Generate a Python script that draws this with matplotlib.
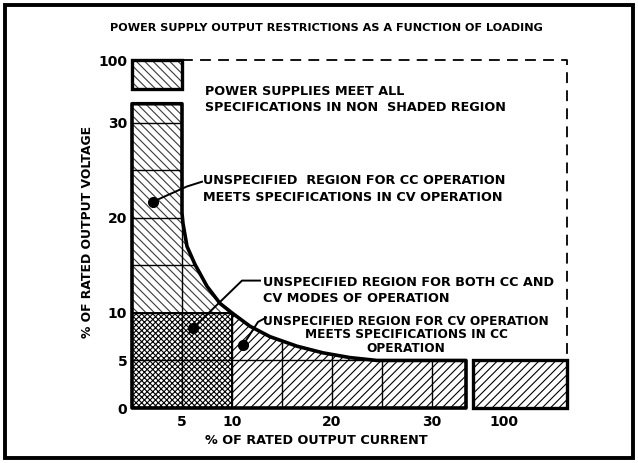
import numpy as np
import matplotlib
matplotlib.use('Agg')
import matplotlib.pyplot as plt
from matplotlib.patches import Polygon, Rectangle

# broken axes: real value -> drawn position (drawn units are ~10 px / 9.5 px)
x_real = [0, 33.4, 98, 104]
x_drawn = [0, 33.4, 34.1, 43.5]
y_real = [0, 32, 97, 100]
y_drawn = [0, 32, 33.5, 36.6]

# boundary curve (% current, % voltage)
curve_i = [5.0, 5.0, 5.1, 5.5, 6.3, 7.5, 8.8, 10.0, 11.8, 13.8, 16.5, 19.1, 21.8, 24.5, 33.4]
curve_v = [32.0, 20.5, 19.4, 17.0, 15.1, 12.8, 11.0, 10.0, 8.6, 7.5, 6.5, 5.8, 5.3, 5.0, 5.0]

x_ticks = [5, 10, 20, 30, 100]
y_ticks = [0, 5, 10, 20, 30, 100]
grid_i = [5, 10, 15, 20, 25, 30]
grid_v = [5, 10, 15, 20, 25, 30]

# annotation dots and leader lines
dot_cc = (2.1, 21.7)
dot_both = (6.1, 8.4)
dot_cv = (11.1, 6.6)
lead_cc = ([2.1, 5.5, 7.0], [21.7, 23.3, 23.8])
lead_both = ([6.1, 11.0, 12.8], [8.4, 13.4, 13.4])
lead_cv = ([11.1, 12.6, 13.4], [6.6, 9.05, 9.5])

title = "POWER SUPPLY OUTPUT RESTRICTIONS AS A FUNCTION OF LOADING"
txt_ok = "POWER SUPPLIES MEET ALL\nSPECIFICATIONS IN NON  SHADED REGION"
txt_cc = "UNSPECIFIED  REGION FOR CC OPERATION\nMEETS SPECIFICATIONS IN CV OPERATION"
txt_both = "UNSPECIFIED REGION FOR BOTH CC AND\nCV MODES OF OPERATION"
txt_cv = "UNSPECIFIED REGION FOR CV OPERATION\nMEETS SPECIFICATIONS IN CC\nOPERATION"


def make_scale(real, drawn):
    r = np.r_[-1e3, real, real[-1] + 1e3]
    d = np.r_[-1e3, drawn, drawn[-1] + 1e3]
    return (lambda a: np.interp(a, r, d)), (lambda a: np.interp(a, d, r))


plt.rcParams['hatch.linewidth'] = 0.8
fig = plt.figure(figsize=(6.38, 4.63), dpi=100)
ax = fig.add_axes([132 / 638, 55 / 463, 435 / 638, 348 / 463])
ax.set_xscale('function', functions=make_scale(x_real, x_drawn))
ax.set_yscale('function', functions=make_scale(y_real, y_drawn))
ax.set_xlim(0, 104)
ax.set_ylim(0, 100)

curve = list(zip(curve_i, curve_v))
upper = [p for p in curve if p[1] >= 10]
lower = [p for p in curve if p[1] <= 10]
i_end = curve_i[-1]
v_top = curve_v[0]

cc_poly = [(0, 10)] + upper[::-1] + [(0, v_top)]
cv_poly = [(10, 0), (i_end, 0)] + lower[::-1]
outline = [(0, 0), (i_end, 0)] + curve[::-1] + [(0, v_top)]

cc_hatch = '\\' * 4
cv_hatch = '/' * 4
both_hatch = 'x' * 6

ax.add_patch(Polygon(cc_poly, closed=True, facecolor='white', edgecolor='#3a3a3a',
                     hatch=cc_hatch, lw=0))
ax.add_patch(Polygon(cv_poly, closed=True, facecolor='white', edgecolor='black',
                     hatch=cv_hatch, lw=0))
ax.add_patch(Rectangle((0, 0), 10, 10, facecolor='white', edgecolor='black',
                       hatch=both_hatch, lw=0))
ax.add_patch(Rectangle((0, y_real[2]), 5, 100 - y_real[2], facecolor='white',
                       edgecolor='#3a3a3a', hatch=cc_hatch, lw=0, clip_on=False))
ax.add_patch(Rectangle((x_real[2], 0), x_real[3] - x_real[2], 5, facecolor='white',
                       edgecolor='black', hatch=cv_hatch, lw=2.4, clip_on=False))
# hatch colour comes from edgecolor, so redraw the box outline in black
ax.add_patch(Rectangle((0, y_real[2]), 5, 100 - y_real[2], fill=False,
                       edgecolor='black', lw=2.4, clip_on=False))

clip = Polygon(outline, closed=True, fill=False, lw=2.6, edgecolor='black',
               clip_on=False, joinstyle='round')
ax.add_patch(clip)

vl = ax.vlines(grid_i, 0, v_top, colors='black', lw=1.0)
hl = ax.hlines(grid_v, 0, i_end, colors='black', lw=1.0)
vl.set_clip_path(clip)
hl.set_clip_path(clip)
ax.plot([0, 10, 10], [10, 10, 0], color='black', lw=1.4)

# dashed boundary of the non-shaded region
ax.plot([5, 104, 104], [100, 100, 5], color='black', lw=1.3,
        ls=(0, (6, 4)), clip_on=False)

# leader lines and dots
for lx, ly in (lead_cc, lead_both, lead_cv):
    ax.plot(lx, ly, color='black', lw=1.4)
for d in (dot_cc, dot_both, dot_cv):
    ax.plot(*d, 'o', color='black', ms=7)

font = dict(family='DejaVu Sans', fontweight='bold', fontsize=9.2)
ax.text(0.168, 0.886, txt_ok, transform=ax.transAxes, ha='left', va='center',
        linespacing=1.35, **font)
ax.text(7.1, 23.05, txt_cc, ha='left', va='center', linespacing=1.35, **font)
ax.text(13.1, 12.4, txt_both, ha='left', va='center', linespacing=1.3, **font)
ax.text(27.4, 7.7, txt_cv, ha='center', va='center', linespacing=1.05,
        multialignment='center', family='DejaVu Sans', fontweight='bold',
        fontsize=8.7)

for s in ax.spines.values():
    s.set_visible(False)
ax.set_xticks(x_ticks)
ax.set_xticklabels([str(t) for t in x_ticks])
ax.set_yticks(y_ticks)
ax.set_yticklabels([str(t) for t in y_ticks])
ax.tick_params(length=0, labelsize=10)
ax.tick_params(axis='x', pad=5)
ax.tick_params(axis='y', pad=3.5)
for lab in ax.get_xticklabels() + ax.get_yticklabels():
    lab.set_fontweight('bold')

ax.set_xlabel("% OF RATED OUTPUT CURRENT", family='DejaVu Sans',
              fontweight='bold', fontsize=9.2)
ax.xaxis.set_label_coords(0.423, -0.076)
ax.set_ylabel("% OF RATED OUTPUT VOLTAGE", family='DejaVu Sans',
              fontweight='bold', fontsize=8.9)
ax.yaxis.set_label_coords(-0.087, 0.506)

fig.text(326 / 638, 1 - 28 / 463, title, ha='center', va='center',
         family='DejaVu Sans', fontweight='bold', fontsize=8.1)
fig.patches.append(Rectangle((5 / 638, 5 / 463), 628 / 638, 453 / 463,
                             transform=fig.transFigure, fill=False,
                             edgecolor='black', lw=2.8))

fig.savefig('out.png', dpi=100)
